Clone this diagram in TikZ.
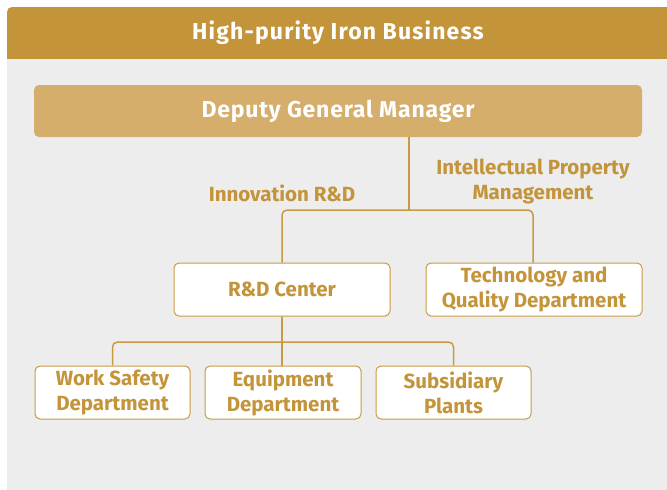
\documentclass[tikz,border=0pt]{standalone}
\usepackage{fontspec}
\setmainfont{Fira Sans}
\definecolor{gold}{HTML}{C4943A}
\definecolor{lightgold}{HTML}{D4AE6A}
\definecolor{linegold}{HTML}{C99A45}
\definecolor{panelgray}{HTML}{EDEDED}
\begin{document}
\begin{tikzpicture}[x=1pt,y=-1pt,
  box/.style={draw=linegold,line width=1pt,fill=white,rounded corners=5pt,inner sep=0pt,align=center,text=gold,font=\fontsize{20.5}{25}\selectfont\bfseries},
  conn/.style={draw=linegold,line width=1.5pt,rounded corners=5pt},
  lbl/.style={text=gold,align=center,font=\fontsize{20.5}{25}\selectfont\bfseries}]
\useasboundingbox (0,0) rectangle (667,490);
\fill[white] (0,0) rectangle (667,490);
% panel
\fill[panelgray,rounded corners=5pt] (7,7) rectangle (680,500);
\fill[gold,rounded corners=5pt] (7,7) rectangle (680,40);
\fill[gold] (7,30) rectangle (680,59);
\node[text=white,font=\fontsize{23}{26}\selectfont\bfseries\addfontfeature{LetterSpace=5}] (title) at (338,33) {High-purity Iron Business};
% deputy GM
\node[fill=lightgold,rounded corners=5pt,minimum width=608pt,minimum height=52pt,inner sep=0pt,text=white,font=\fontsize{23}{26}\selectfont\bfseries\addfontfeature{LetterSpace=3.5}] (dgm) at (338,111) {Deputy General Manager};
% second level
\node[box,minimum width=216pt,minimum height=53pt] (rd) at (282,289.5) {R\&D Center};
\node[box,minimum width=216pt,minimum height=53pt] (tq) at (534,289.5) {Technology and\\Quality Department};
% labels
\node[lbl] (l1) at (282,193) {Innovation R\&D};
\node[lbl] (l2) at (533,181) {Intellectual Property\\Management};
% third level
\node[box,minimum width=155pt,minimum height=53pt] (ws) at (112.5,392.5) {Work Safety\\Department};
\node[box,minimum width=156pt,minimum height=53pt] (eq) at (283,392.5) {Equipment\\Department};
\node[box,minimum width=155pt,minimum height=53pt] (sp) at (453.5,392.5) {Subsidiary\\Plants};
% connectors
\coordinate (j1) at (409,210);
\draw[conn] (dgm.south -| j1) -- (j1);
\draw[conn] (rd.north) -- (282,210) -- (533,210) -- (tq.north -| 533,0);
\coordinate (j2) at (282,342);
\draw[conn] (rd.south) -- (j2);
\draw[conn] (ws.north) -- (112.5,342) -- (453.5,342) -- (sp.north);
\draw[conn] (j2) -- (eq.north -| j2);
\end{tikzpicture}
\end{document}
